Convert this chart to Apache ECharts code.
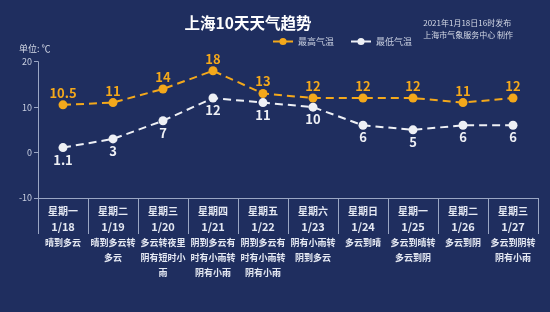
<!DOCTYPE html>
<html><head><meta charset="utf-8">
<script src="https://cdn.jsdelivr.net/npm/echarts@6/dist/echarts.min.js"></script>
<style>html,body{margin:0;padding:0;background:#1f2e5f;}#c{width:550px;height:312px;}</style>
</head><body><div id="c"></div>
<script>
var weekdays = ['星期一','星期二','星期三','星期四','星期五','星期六','星期日','星期一','星期二','星期三'];
var dates = ['1/18','1/19','1/20','1/21','1/22','1/23','1/24','1/25','1/26','1/27'];
var descs = ['晴到多云','晴到多云转多云','多云转夜里阴有短时小雨','阴到多云有时有小雨转阴有小雨','阴到多云有时有小雨转阴有小雨','阴有小雨转阴到多云','多云到晴','多云到晴转多云到阴','多云到阴','多云到阴转阴有小雨'];
var highTemps = [10.5, 11, 14, 18, 13, 12, 12, 12, 11, 12];
var lowTemps = [1.1, 3, 7, 12, 11, 10, 6, 5, 6, 6];
var yTicks = [-10, 0, 10, 20];

var font = '"Noto Sans CJK SC", "Noto Sans", sans-serif';
var chart = echarts.init(document.getElementById('c'));
function chunk(s, n) { var out = []; for (var i = 0; i < s.length; i += n) out.push(s.slice(i, i + n)); return out; }
chart.setOption({
  backgroundColor: '#1f2e5f',
  textStyle: { fontFamily: font },
  title: [
    { text: '上海10天天气趋势', left: 243, top: 10, textAlign: 'center',
      textStyle: { color: '#ffffff', fontSize: 15.5, fontWeight: 'bold', fontFamily: font } },
    { text: '2021年1月18日16时发布\n上海市气象服务中心 制作', right: 32, top: 12,
      textStyle: { color: '#d4d9e6', fontSize: 8, lineHeight: 12, fontWeight: 'normal', fontFamily: font, align: 'right' } },
    { text: '单位: ℃', left: 14, top: 39,
      textStyle: { color: '#d4d9e6', fontSize: 9, fontWeight: 'normal', fontFamily: font } }
  ],
  legend: {
    left: 267, top: 32, itemWidth: 20, itemHeight: 9, itemGap: 16,
    textStyle: { color: '#c8cfe0', fontSize: 9, fontFamily: font },
    data: ['最高气温', '最低气温']
  },
  grid: { left: 38, right: 12, top: 61.7, bottom: 114 },
  xAxis: {
    type: 'category', data: weekdays, boundaryGap: true,
    axisLine: { onZero: false, lineStyle: { color: '#9aa6c4', width: 1 } },
    axisTick: { show: true, interval: 0, length: 36, lineStyle: { color: '#9aa6c4' } },
    axisLabel: {
      interval: 0, margin: 5,
      formatter: function (v, i) {
        var lines = chunk(descs[i], 5).map(function (l) { return '{t|' + l + '}'; });
        return '{w|' + v + '}\n{d|' + dates[i] + '}\n' + lines.join('\n');
      },
      rich: {
        w: { color: '#e4e8f2', fontSize: 10, fontWeight: 'bold', lineHeight: 16, fontFamily: font },
        d: { color: '#e4e8f2', fontSize: 11, fontWeight: 'bold', lineHeight: 16, fontFamily: font },
        t: { color: '#e4e8f2', fontSize: 9, fontWeight: 'bold', lineHeight: 15, fontFamily: font }
      }
    }
  },
  yAxis: {
    type: 'value', min: yTicks[0], max: yTicks[yTicks.length - 1], interval: 10,
    splitLine: { show: false },
    axisLine: { show: true, lineStyle: { color: '#9aa6c4' } },
    axisTick: { show: true, length: 4, lineStyle: { color: '#9aa6c4' } },
    axisLabel: { color: '#c8cfe0', fontSize: 9, margin: 6, fontFamily: font }
  },
  series: [
    { name: '最高气温', type: 'line', data: highTemps, symbol: 'circle', symbolSize: 9,
      itemStyle: { color: '#f3a81b' },
      lineStyle: { color: '#f3a81b', width: 2, type: [8, 5] },
      label: { show: true, position: 'top', distance: 1, color: '#f3a81b', fontSize: 13, fontWeight: 'bold', fontFamily: font } },
    { name: '最低气温', type: 'line', data: lowTemps, symbol: 'circle', symbolSize: 9,
      itemStyle: { color: '#eef0f5' },
      lineStyle: { color: '#eef0f5', width: 2, type: [8, 5] },
      label: { show: true, position: 'bottom', distance: 1, color: '#eef0f5', fontSize: 13, fontWeight: 'bold', fontFamily: font } }
  ]
});
</script></body></html>
